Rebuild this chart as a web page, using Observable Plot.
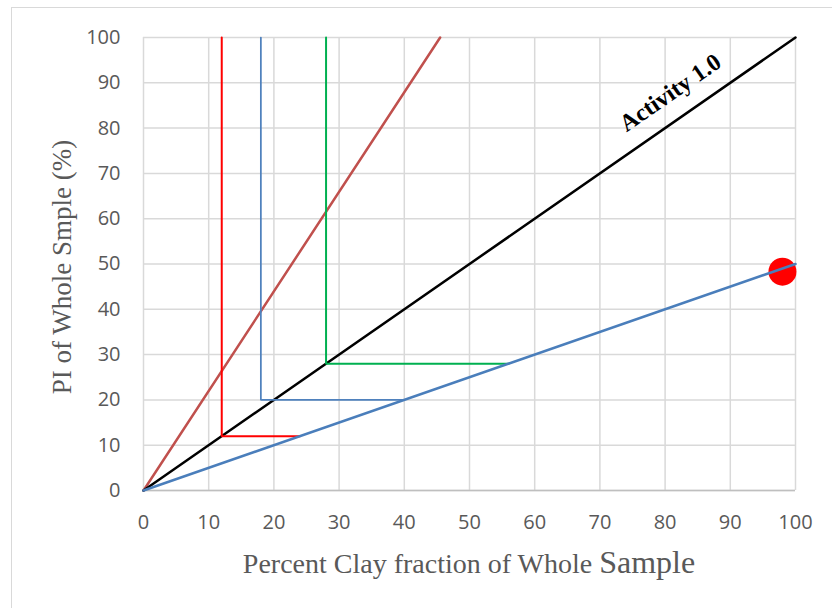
<!DOCTYPE html>
<html><head><meta charset="utf-8">
<script src="https://cdn.jsdelivr.net/npm/d3@7"></script>
<script src="https://cdn.jsdelivr.net/npm/@observablehq/plot@0.6"></script>
<style>
body{margin:0;background:#fff;}
#wrap{position:relative;width:832px;height:608px;overflow:hidden;background:#fff;}
#frame{position:absolute;left:11px;top:7px;width:900px;height:700px;border:1px solid #d9d9d9;}
#wrap svg{position:absolute;left:0;top:0;}
</style></head><body><div id="wrap"><div id="frame"></div></div>
<script>
// Tick values
const xTicks = [0, 10, 20, 30, 40, 50, 60, 70, 80, 90, 100];
const yTicks = [0, 10, 20, 30, 40, 50, 60, 70, 80, 90, 100];

// Activity 1.0 line
const activityX = [0, 100];
const activityY = [0, 100];
// Steep (brown) line
const steepX = [0, 45.5];
const steepY = [0, 100];
// Shallow (blue) line
const shallowX = [0, 100];
const shallowY = [0, 50];
// Step lines
const redStepX = [12, 12, 24];
const redStepY = [100, 12, 12];
const blueStepX = [18, 18, 40];
const blueStepY = [100, 20, 20];
const greenStepX = [28, 28, 56];
const greenStepY = [100, 28, 28];
// Sample point
const pointX = [98];
const pointY = [48.3];
// Annotation
const labelText = ["Activity 1.0"];
const labelX = [80.8];
const labelY = [87.8];

const pts = (xs, ys) => xs.map((x, i) => ({x, y: ys[i]}));

const tickFont = "'Open Sans', 'Liberation Sans', sans-serif";
const serif = "'Liberation Serif', 'Times New Roman', serif";

const svg = Plot.plot({
  width: 832, height: 608,
  marginLeft: 143, marginRight: 37, marginTop: 37, marginBottom: 118,
  x: {domain: [0, 100]},
  y: {domain: [0, 100]},
  style: {background: "transparent", fontFamily: tickFont},
  marks: [
    Plot.gridX(xTicks, {stroke: "#d9d9d9", strokeOpacity: 1, strokeWidth: 1.5}),
    Plot.gridY(yTicks, {stroke: "#d9d9d9", strokeOpacity: 1, strokeWidth: 1.5}),
    Plot.ruleY([0], {stroke: "#bfbfbf", strokeWidth: 1.5}),
    Plot.axisX(xTicks, {tickSize: 0, tickPadding: 24, fontSize: 20, fill: "#595959", label: null, tickFormat: d => String(d)}),
    Plot.axisY(yTicks, {tickSize: 0, tickPadding: 23, fontSize: 20, fill: "#595959", label: null, tickFormat: d => String(d)}),
    Plot.line(pts(steepX, steepY), {x: "x", y: "y", stroke: "#c0504d", strokeWidth: 2.5}),
    Plot.line(pts(activityX, activityY), {x: "x", y: "y", stroke: "#000000", strokeWidth: 2.5}),
    Plot.line(pts(redStepX, redStepY), {x: "x", y: "y", stroke: "#ff0000", strokeWidth: 2, strokeLinejoin: "miter"}),
    Plot.line(pts(blueStepX, blueStepY), {x: "x", y: "y", stroke: "#4f81bd", strokeWidth: 1.75, strokeLinejoin: "miter"}),
    Plot.line(pts(greenStepX, greenStepY), {x: "x", y: "y", stroke: "#00b050", strokeWidth: 2, strokeLinejoin: "miter"}),
    Plot.dot(pts(pointX, pointY), {x: "x", y: "y", r: 14, fill: "#ff0000", stroke: "none"}),
    Plot.line(pts(shallowX, shallowY), {x: "x", y: "y", stroke: "#4a7ebb", strokeWidth: 2.5}),
    Plot.text(labelText, {x: labelX, y: labelY, text: d => d, rotate: -34.8, fontSize: 24, fontWeight: "bold", fontFamily: serif, fill: "#000"})
  ]
});
document.getElementById("wrap").append(svg);

// Axis titles
const s = d3.select(svg);
const xt = s.append("text")
  .attr("x", 469).attr("y", 573)
  .attr("text-anchor", "middle")
  .attr("font-family", serif).attr("font-size", 28).attr("fill", "#595959");
xt.append("tspan").text("Percent Clay fraction of Whole ");
xt.append("tspan").attr("font-size", 32).text("Sample");

s.append("text")
  .attr("transform", "translate(71,267) rotate(-90)")
  .attr("text-anchor", "middle")
  .attr("font-family", serif).attr("font-size", 27).attr("fill", "#595959")
  .text("PI of Whole Smple (%)");
</script>
</body></html>
